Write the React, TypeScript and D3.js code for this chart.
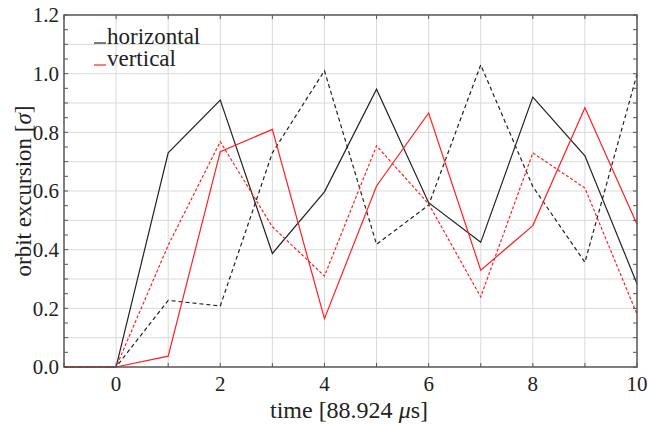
import React, { useEffect, useRef } from "react";
import * as d3 from "d3";

// time steps (units of 88.924 µs)
const times = [-1, 0, 1, 2, 3, 4, 5, 6, 7, 8, 9, 10];
// orbit excursion in sigma
const horizontalA = [0, 0, 0.73, 0.91, 0.387, 0.597, 0.947, 0.56, 0.425, 0.92, 0.72, 0.284];
const horizontalB = [0, 0, 0.227, 0.208, 0.73, 1.01, 0.418, 0.552, 1.03, 0.615, 0.357, 0.998];
const verticalA = [0, 0, 0.037, 0.734, 0.81, 0.165, 0.617, 0.866, 0.33, 0.482, 0.884, 0.487];
const verticalB = [0, 0, 0.415, 0.768, 0.478, 0.31, 0.754, 0.556, 0.239, 0.73, 0.61, 0.18];

const xTicks = [0, 2, 4, 6, 8, 10];
const yTicks = [0, 0.2, 0.4, 0.6, 0.8, 1.0, 1.2];
const legendNames = ["horizontal", "vertical"];

const App = () => {
    const ref = useRef<SVGSVGElement>(null);

    useEffect(() => {
        document.body.style.margin = "0";
        const width = 648;
        const height = 424;
        const margin = { top: 15, right: 11, bottom: 57, left: 64 };
        const font = "'Liberation Serif', serif";

        const svg = d3.select(ref.current);
        svg.selectAll("*").remove();
        svg.attr("width", width).attr("height", height);

        const x = d3.scaleLinear().domain([-1, 10]).range([margin.left, width - margin.right]);
        const y = d3.scaleLinear().domain([0, 1.2]).range([height - margin.bottom, margin.top]);

        // grid
        const grid = svg.append("g");
        grid.selectAll("line.v")
            .data(d3.range(0, 10))
            .join("line")
            .attr("x1", (d) => x(d))
            .attr("x2", (d) => x(d))
            .attr("y1", y(0))
            .attr("y2", y(1.2))
            .attr("stroke", "#d9d9d9")
            .attr("stroke-width", 1);
        grid.selectAll("line.h")
            .data(d3.range(1, 12).map((i) => i / 10))
            .join("line")
            .attr("x1", x(-1))
            .attr("x2", x(10))
            .attr("y1", (d) => y(d))
            .attr("y2", (d) => y(d))
            .attr("stroke", "#d9d9d9")
            .attr("stroke-width", 1);

        // lines
        const line = d3
            .line<number>()
            .x((_, i) => x(times[i]))
            .y((d) => y(d));

        const series = [
            { values: horizontalA, color: "#222222", dash: null },
            { values: horizontalB, color: "#222222", dash: "4,3" },
            { values: verticalB, color: "#ff2020", dash: "3,2" },
            { values: verticalA, color: "#ff2020", dash: null },
        ];
        const plot = svg.append("g");
        series.forEach((s) => {
            plot.append("path")
                .datum(s.values)
                .attr("d", line)
                .attr("fill", "none")
                .attr("stroke", s.color)
                .attr("stroke-width", 1.2)
                .attr("stroke-dasharray", s.dash);
        });

        // frame
        svg.append("rect")
            .attr("x", x(-1))
            .attr("y", y(1.2))
            .attr("width", x(10) - x(-1))
            .attr("height", y(0) - y(1.2))
            .attr("fill", "none")
            .attr("stroke", "#555")
            .attr("stroke-width", 1.5);

        // inward ticks
        const ticks = svg.append("g").attr("stroke", "#555").attr("stroke-width", 1);
        const yMinor = d3.range(0, 25).map((i) => i * 0.05);
        yMinor.forEach((v) => {
            ticks.append("line").attr("x1", x(-1)).attr("x2", x(-1) + 4).attr("y1", y(v)).attr("y2", y(v));
            ticks.append("line").attr("x1", x(10)).attr("x2", x(10) - 4).attr("y1", y(v)).attr("y2", y(v));
        });
        d3.range(-1, 11).forEach((v) => {
            ticks.append("line").attr("x1", x(v)).attr("x2", x(v)).attr("y1", y(0)).attr("y2", y(0) - 4);
            ticks.append("line").attr("x1", x(v)).attr("x2", x(v)).attr("y1", y(1.2)).attr("y2", y(1.2) + 4);
        });

        // tick labels
        svg.append("g")
            .selectAll("text")
            .data(yTicks)
            .join("text")
            .attr("x", x(-1) - 5)
            .attr("y", (d) => y(d))
            .attr("dy", "0.35em")
            .attr("text-anchor", "end")
            .attr("font-family", font)
            .attr("font-size", 21)
            .attr("fill", "#222")
            .text((d) => d.toFixed(1));
        svg.append("g")
            .selectAll("text")
            .data(xTicks)
            .join("text")
            .attr("x", (d) => x(d))
            .attr("y", y(0) + 24)
            .attr("text-anchor", "middle")
            .attr("font-family", font)
            .attr("font-size", 21)
            .attr("fill", "#222")
            .text((d) => d);

        // axis labels
        const xl = svg.append("text")
            .attr("x", 349)
            .attr("y", height - 6)
            .attr("text-anchor", "middle")
            .attr("font-family", font)
            .attr("font-size", 24)
            .attr("fill", "#222");
        xl.append("tspan").text("time [88.924 ");
        xl.append("tspan").attr("font-style", "italic").text("μ");
        xl.append("tspan").text("s]");

        const yl = svg.append("text")
            .attr("transform", `translate(31,${(y(0) + y(1.2)) / 2}) rotate(-90)`)
            .attr("text-anchor", "middle")
            .attr("font-family", font)
            .attr("font-size", 23)
            .attr("fill", "#222");
        yl.append("tspan").text("orbit excursion [");
        yl.append("tspan").attr("font-style", "italic").text("σ");
        yl.append("tspan").text("]");

        // legend
        const legendColors = ["#222222", "#ff2020"];
        const legend = svg.append("g");
        legendNames.forEach((name, i) => {
            const ly = 43 + i * 22;
            legend.append("line")
                .attr("x1", 94)
                .attr("x2", 106)
                .attr("y1", ly)
                .attr("y2", ly)
                .attr("stroke", legendColors[i])
                .attr("stroke-width", 1.2);
            legend.append("text")
                .attr("x", 107)
                .attr("y", ly + 1)
                .attr("font-family", font)
                .attr("font-size", 23)
                .attr("fill", "#222")
                .text(name);
        });
    }, []);

    return <svg ref={ref}></svg>;
};

export default App;
